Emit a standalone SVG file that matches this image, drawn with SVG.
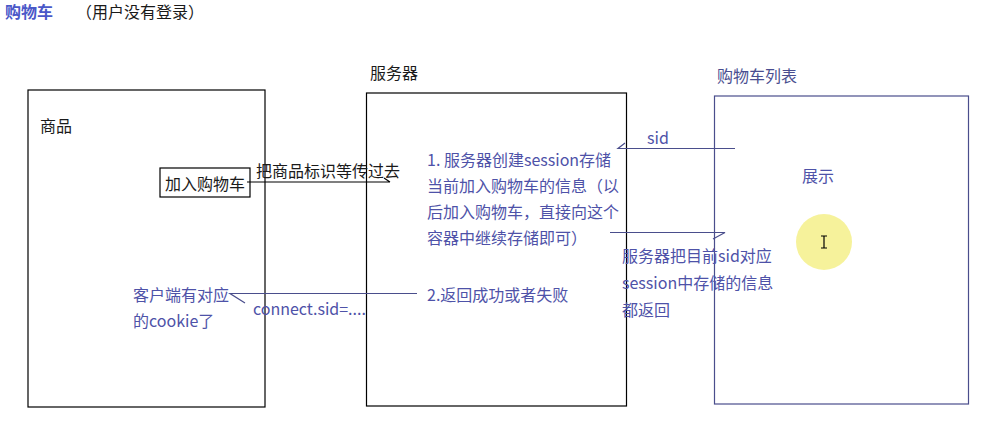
<svg xmlns="http://www.w3.org/2000/svg" width="1006" height="421" viewBox="0 0 1006 421">
<style>
text{font-family:"Noto Sans CJK SC","Noto Sans",sans-serif;font-size:16px}
.k{fill:#1a1a1a}
.b{fill:#4e52a8}
.box{fill:none;stroke:#000;stroke-width:1.2}
.bl{fill:none;stroke:#4a4e8c;stroke-width:1.2}
.kl{fill:none;stroke:#000;stroke-width:1.2}
</style>
<rect width="1006" height="421" fill="#fff"/>
<g id="title">
<text x="5" y="18" class="b" style="font-weight:bold;fill:#4a58c8">购物车</text>
<text x="76" y="18" class="k">（用户没有登录）</text>
</g>
<g id="goods">
<rect x="28" y="90" width="237" height="317" class="box"/>
<text x="40" y="132" class="k">商品</text>
</g>
<g id="addcart">
<rect x="160" y="168" width="90" height="29" class="box"/>
<text x="165" y="190" class="k">加入购物车</text>
</g>
<g id="server">
<text x="370" y="79" class="k">服务器</text>
<rect x="366.5" y="93" width="260" height="313" class="box"/>
<text x="427" y="166" class="b">1. 服务器创建session存储</text>
<text x="427" y="192" class="b">当前加入购物车的信息（以</text>
<text x="427" y="218" class="b">后加入购物车，直接向这个</text>
<text x="427" y="244" class="b">容器中继续存储即可）</text>
</g>
<g id="cartlist">
<text x="717" y="82" class="b" style="fill:#4a4e90">购物车列表</text>
<rect x="714.5" y="96" width="254" height="308" class="bl"/>
<text x="802" y="182" class="b">展示</text>
</g>
<g id="connectors">
<path d="M247 182 H390 M384 178 L390 182" class="kl"/>
<text x="256" y="177" class="k">把商品标识等传过去</text>
<path d="M735 148.5 H618 L625 143" class="bl"/>
<text x="647" y="144" class="b">sid</text>
<path d="M610 232.5 H725 L713 239" class="bl"/>
<text x="622" y="262" class="b">服务器把目前sid对应</text>
<text x="622" y="289" class="b">session中存储的信息</text>
<text x="622" y="316" class="b">都返回</text>
<path d="M417 293.5 H230 L245 303" class="bl"/>
<text x="427" y="301" class="b">2.返回成功或者失败</text>
<text x="133" y="301" class="b">客户端有对应</text>
<text x="133" y="327" class="b">的cookie了</text>
<text x="253" y="315" class="b">connect.sid=....</text>
</g>
<g id="cursor">
<circle cx="824" cy="242" r="28" fill="#f5f08a" opacity="0.85"/>
<path d="M821 236 H827 M824 236 V248 M821 248 H827" stroke="#000" stroke-width="1.2" fill="none"/>
</g>
</svg>
